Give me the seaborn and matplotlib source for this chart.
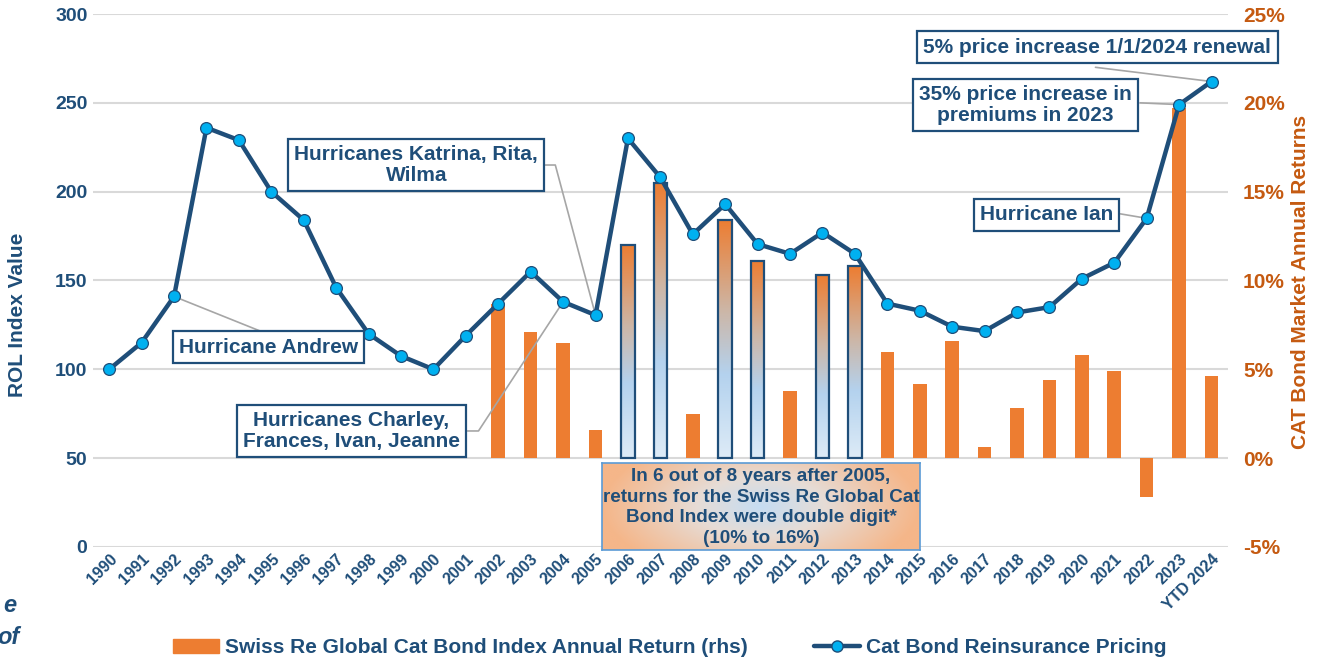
import numpy as np
import matplotlib
matplotlib.use("Agg")
import matplotlib.pyplot as plt
import seaborn as sns
from matplotlib.colors import LinearSegmentedColormap
from matplotlib.lines import Line2D
from matplotlib.patches import Patch

# data
years = [str(y) for y in range(1990, 2024)] + ["YTD 2024"]
rol_index = [100, 115, 141, 236, 229, 200, 184, 146, 120, 107.5,
             100, 119, 137, 155, 138, 130.5, 230, 208, 176, 193,
             170.5, 165, 177, 165, 137, 133, 124, 121.5, 132, 135,
             151, 160, 185, 249, 262]
cat_returns = [np.nan] * 12 + [8.7, 7.1, 6.5, 1.6, 12.0, 15.5, 2.5, 13.4,
                               11.1, 3.8, 10.3, 10.8, 6.0, 4.2, 6.6, 0.6,
                               2.8, 4.4, 5.8, 4.9, -2.2, 19.7, 4.6]
double_digit_years = ["2006", "2007", "2009", "2010", "2012", "2013"]

DARK = "#1F4E79"
ORANGE = "#ED7D31"
RUST = "#C55A11"
MARKER = "#00B0F0"

sns.set_style("white")
plt.rcParams["font.family"] = ["Liberation Sans", "DejaVu Sans"]

fig = plt.figure(figsize=(13.21, 6.61), dpi=100)
ax = fig.add_axes([0.0704, 0.1725, 0.859, 0.8063])
ax2 = ax.twinx()
ax.set_zorder(2)
ax.patch.set_visible(False)

pos = np.arange(len(years))

# bars on the right axis
sns.barplot(x=pos, y=cat_returns, ax=ax2, native_scale=True, color=ORANGE,
            saturation=1, width=0.42, edgecolor="none")

bar_cmap = LinearSegmentedColormap.from_list(
    "bar", [(0, "#DDEBF7"), (0.35, "#B4D2EE"), (0.62, "#CDB6A6"), (1, ORANGE)])
grad = np.linspace(0, 1, 256).reshape(-1, 1)
for p in list(ax2.patches):
    idx = int(round(p.get_x() + p.get_width() / 2))
    if years[idx] in double_digit_years:
        x0, w, h = p.get_x(), p.get_width(), p.get_height()
        p.set_facecolor("none")
        p.set_edgecolor(DARK)
        p.set_linewidth(1.6)
        p.set_zorder(3)
        im = ax2.imshow(grad, cmap=bar_cmap, origin="lower", aspect="auto",
                        extent=[x0, x0 + w, 0, h], zorder=2)
        im.set_clip_path(p)

ax2.set_ylim(-5, 25)
ax2.set_yticks(range(-5, 30, 5))
ax2.set_yticklabels([f"{t}%" for t in range(-5, 30, 5)])
ax2.grid(axis="y", color="#D9D9D9", lw=1.5)
ax2.set_axisbelow(True)
ax2.tick_params(axis="y", length=0, pad=11, labelsize=15, labelcolor=RUST)
for lab in ax2.get_yticklabels():
    lab.set_fontweight("bold")
ax2.set_ylabel("CAT Bond Market Annual Returns", color=RUST, fontsize=15,
               fontweight="bold")
ax2.yaxis.set_label_coords(1.0555, 0.497)

# line on the left axis
sns.lineplot(x=pos, y=rol_index, ax=ax, color=DARK, lw=3.2, marker="o",
             markersize=8.5, markerfacecolor=MARKER, markeredgecolor=DARK,
             markeredgewidth=0.9, zorder=4)
ax.set_ylim(0, 300)
ax.set_yticks(range(0, 301, 50))
ax.set_xlim(-0.5, len(years) - 0.5)
ax.set_xticks(pos)
ax.set_xticklabels(years, rotation=45, ha="right", rotation_mode="anchor")
ax.tick_params(axis="x", length=0, pad=3, labelsize=11.5, labelcolor=DARK)
ax.tick_params(axis="y", length=0, pad=4, labelsize=14, labelcolor=DARK)
for lab in ax.get_xticklabels() + ax.get_yticklabels():
    lab.set_fontweight("bold")
ax.set_ylabel("ROL Index Value", color=DARK, fontsize=15, fontweight="bold")
ax.yaxis.set_label_coords(-0.058, 0.435)
ax.set_xlabel("")
ax2.set_xlim(ax.get_xlim())

for a in (ax, ax2):
    for s in a.spines.values():
        s.set_visible(False)

# callouts
box = dict(boxstyle="square,pad=0.3", fc="white", ec=DARK, lw=1.6)
tkw = dict(color=DARK, fontsize=15, fontweight="bold", ha="center",
           va="center", bbox=box, zorder=6, linespacing=1.1)
leader = dict(color="#A6A6A6", lw=1.2, zorder=3)

ax.text(4.91, 112.5, "Hurricane Andrew", **tkw)
ax.plot([2, 4.8], [rol_index[2], 120.5], **leader)

ax.text(9.47, 215, "Hurricanes Katrina, Rita,\nWilma", **tkw)
ax.plot([13.45, 13.76, 15], [215, 215, rol_index[15]], **leader)

ax.text(7.47, 65.3, "Hurricanes Charley,\nFrances, Ivan, Jeanne", **tkw)
ax.plot([11.05, 11.39, 14], [65.3, 65.3, rol_index[14]], **leader)

ax.text(28.91, 187, "Hurricane Ian", **tkw)
ax.plot([31.19, 32], [187.5, rol_index[32]], **leader)

ax.text(28.26, 248.8, "35% price increase in\npremiums in 2023", **tkw)
ax.plot([31.8, 33], [250, rol_index[33]], **leader)

ax.text(30.48, 281.4, "5% price increase 1/1/2024 renewal", **tkw)
ax.plot([30.42, 34], [270, rol_index[34]], **leader)

# gradient note box
nax = fig.add_axes([0.4557, 0.1679, 0.2407, 0.1316], zorder=6)
gx, gy = np.meshgrid(np.linspace(-1, 1, 400), np.linspace(-1, 1, 120))
rad = np.clip(np.sqrt(gx ** 2 + 0.35 * gy ** 2), 0, 1)
note_cmap = LinearSegmentedColormap.from_list(
    "note", [(0, "#C6DDF2"), (0.4, "#E6DCD6"), (1, "#F5B689")])
nax.imshow(rad, cmap=note_cmap, aspect="auto", extent=[0, 1, 0, 1])
nax.set_xticks([])
nax.set_yticks([])
for s in nax.spines.values():
    s.set_color("#5B9BD5")
    s.set_linewidth(1.2)
nax.text(0.5, 0.49, "In 6 out of 8 years after 2005,\nreturns for the Swiss Re Global Cat\n"
         "Bond Index were double digit*\n(10% to 16%)", transform=nax.transAxes,
         ha="center", va="center", color=DARK, fontsize=13.6, fontweight="bold",
         linespacing=1.27)

# legend
handles = [Patch(color=ORANGE),
           Line2D([0], [0], color=DARK, lw=3.2, marker="o", markersize=8,
                  markerfacecolor=MARKER, markeredgecolor=DARK)]
labels = ["Swiss Re Global Cat Bond Index Annual Return (rhs)",
          "Cat Bond Reinsurance Pricing"]
fig.legend(handles, labels, loc="center", bbox_to_anchor=(0.507, 0.02),
           ncol=2, frameon=False, labelcolor=DARK, handlelength=2.2,
           handleheight=0.7, columnspacing=3.2, handletextpad=0.3,
           prop={"size": 15, "weight": "bold"})

# clipped text fragments at bottom-left
fig.text(16 / 1321, 1 - 606 / 661, "e", ha="right", va="center", color=DARK,
         fontsize=17, fontweight="bold", style="italic")
fig.text(20 / 1321, 1 - 638 / 661, "of", ha="right", va="center", color=DARK,
         fontsize=17, fontweight="bold", style="italic")

fig.savefig("out.png", dpi=100)
